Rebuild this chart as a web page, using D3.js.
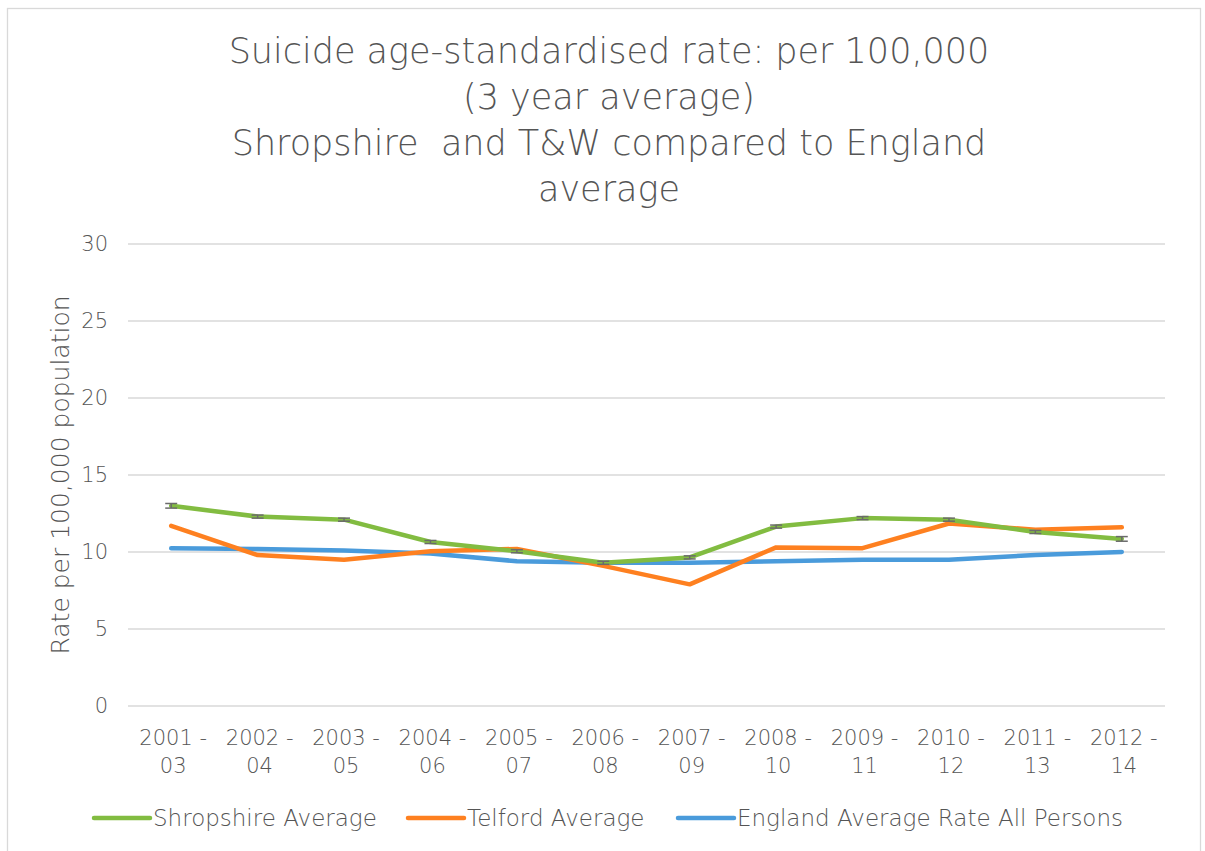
<!DOCTYPE html>
<html>
<head>
<meta charset="utf-8">
<script src="https://cdn.jsdelivr.net/npm/d3@7"></script>
<style>
  body { margin: 0; background: #fff; }
  text { font-family: "DejaVu Sans", sans-serif; font-weight: 200; fill: #555555; }
</style>
</head>
<body>
<div id="chart"></div>
<script>
// chart values
var periods = ["2001 - 03", "2002 - 04", "2003 - 05", "2004 - 06", "2005 - 07", "2006 - 08",
               "2007 - 09", "2008 - 10", "2009 - 11", "2010 - 12", "2011 - 13", "2012 - 14"];
var shropshire = [13.0, 12.3, 12.1, 10.65, 10.05, 9.3, 9.65, 11.65, 12.2, 12.1, 11.3, 10.85];
var shropshireErr = [0.15, 0.1, 0.1, 0.1, 0.1, 0.1, 0.1, 0.1, 0.1, 0.1, 0.1, 0.15];
var telford = [11.7, 9.8, 9.5, 10.05, 10.2, 9.1, 7.9, 10.3, 10.25, 11.85, 11.45, 11.6];
var england = [10.25, 10.2, 10.1, 9.9, 9.4, 9.3, 9.3, 9.4, 9.5, 9.5, 9.8, 10.0];
var yTicks = [0, 5, 10, 15, 20, 25, 30];
var titleLines = ["Suicide age-standardised rate: per 100,000", "(3 year average)",
                  "Shropshire  and T&W compared to England", "average"];
var seriesNames = ["Shropshire Average", "Telford Average", "England Average Rate All Persons"];
var seriesColors = ["#82bc41", "#fe8020", "#4a9bdb"];

var svgWidth = 1205;
var svgHeight = 851;

// plot area
var plot = { left: 128, right: 1165, top: 244, bottom: 706 };

var svg = d3.select("#chart")
  .append("svg")
  .attr("width", svgWidth)
  .attr("height", svgHeight);

// chart border (only left/top are inside the frame)
svg.append("rect")
  .attr("x", 7.5).attr("y", 8.5)
  .attr("width", 1193).attr("height", 860)
  .attr("fill", "none")
  .attr("stroke", "#d9d9d9")
  .attr("stroke-width", 1.3);

// title
svg.append("g").selectAll("text")
  .data(titleLines)
  .enter().append("text")
  .attr("x", 609)
  .attr("y", function (d, i) { return 63 + i * 46; })
  .attr("text-anchor", "middle")
  .style("font-size", "35px")
  .style("white-space", "pre")
  .text(function (d) { return d; });

var x = d3.scaleBand().domain(periods).range([plot.left, plot.right]);
var y = d3.scaleLinear().domain([0, 30]).range([plot.bottom, plot.top]);
var cx = function (i) { return x(periods[i]) + x.bandwidth() / 2; };

// gridlines
svg.append("g").selectAll("line")
  .data(yTicks)
  .enter().append("line")
  .attr("x1", plot.left).attr("x2", plot.right)
  .attr("y1", function (d) { return y(d); })
  .attr("y2", function (d) { return y(d); })
  .attr("stroke", "#d9d9d9")
  .attr("stroke-width", 1.3);

// y tick labels
svg.append("g").selectAll("text")
  .data(yTicks)
  .enter().append("text")
  .attr("x", 108)
  .attr("y", function (d) { return y(d) + 7; })
  .attr("text-anchor", "end")
  .style("font-size", "21px")
  .text(function (d) { return d; });

// y axis title
svg.append("text")
  .attr("transform", "translate(69," + (plot.top + plot.bottom) / 2 + ") rotate(-90)")
  .attr("text-anchor", "middle")
  .style("font-size", "25px")
  .text("Rate per 100,000 population");

// x labels, wrapped in two lines like the original
var xl = svg.append("g").selectAll("text")
  .data(periods)
  .enter().append("text")
  .attr("text-anchor", "middle")
  .style("font-size", "21px");
xl.append("tspan")
  .attr("x", function (d, i) { return cx(i) + 2; })
  .attr("y", 745)
  .text(function (d) { return d.split(" - ")[0] + " -"; });
xl.append("tspan")
  .attr("x", function (d, i) { return cx(i) + 2; })
  .attr("y", 773)
  .text(function (d) { return d.split(" - ")[1]; });

var line = d3.line()
  .x(function (d, i) { return cx(i); })
  .y(function (d) { return y(d); });

// england first, shropshire on top
var allSeries = [england, telford, shropshire];
var allColors = [seriesColors[2], seriesColors[1], seriesColors[0]];
svg.append("g").selectAll("path")
  .data(allSeries)
  .enter().append("path")
  .attr("d", function (d) { return line(d); })
  .attr("fill", "none")
  .attr("stroke", function (d, i) { return allColors[i]; })
  .attr("stroke-width", 4.5)
  .attr("stroke-linecap", "round")
  .attr("stroke-linejoin", "round");

// small error bars on Shropshire
var eb = svg.append("g").attr("stroke", "#6b6b6b").attr("stroke-width", 1.5);
shropshire.forEach(function (v, i) {
  var e = shropshireErr[i];
  eb.append("line")
    .attr("x1", cx(i)).attr("x2", cx(i))
    .attr("y1", y(v - e)).attr("y2", y(v + e));
  [v - e, v + e].forEach(function (w) {
    eb.append("line")
      .attr("x1", cx(i) - 6).attr("x2", cx(i) + 6)
      .attr("y1", y(w)).attr("y2", y(w));
  });
});

// legend
var legendX = [94, 408, 678];
var lg = svg.append("g").selectAll("g")
  .data(seriesNames)
  .enter().append("g")
  .attr("transform", function (d, i) { return "translate(" + legendX[i] + ",818)"; });
lg.append("line")
  .attr("x1", 0).attr("x2", 56)
  .attr("stroke", function (d, i) { return seriesColors[i]; })
  .attr("stroke-width", 4.5)
  .attr("stroke-linecap", "round");
lg.append("text")
  .attr("x", 59)
  .attr("y", 8)
  .style("font-size", "23px")
  .text(function (d) { return d; });
</script>
</body>
</html>
